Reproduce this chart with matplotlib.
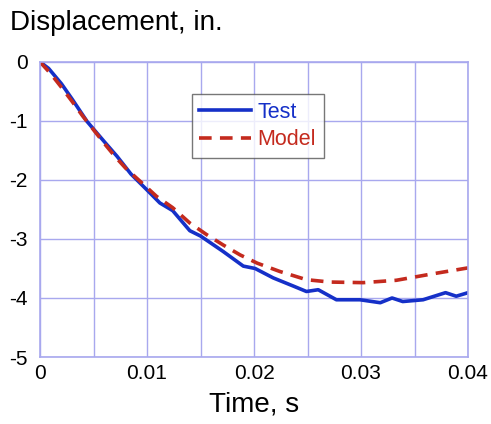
import numpy as np
import matplotlib.pyplot as plt

plt.rcParams['font.family'] = ['Liberation Sans', 'DejaVu Sans']

# Test record (time in s, displacement in in.)
t_test = [0.0, 0.0008, 0.002, 0.003, 0.0044, 0.006, 0.0072, 0.0085, 0.0100,
          0.0112, 0.0124, 0.0140, 0.0150, 0.0171, 0.0190, 0.0201, 0.0218,
          0.0237, 0.0249, 0.0260, 0.0277, 0.0299, 0.0318, 0.0329, 0.0339,
          0.0358, 0.0379, 0.0389, 0.0400]
d_test = [0.0, -0.11, -0.37, -0.63, -1.01, -1.35, -1.60, -1.90, -2.17,
          -2.39, -2.52, -2.86, -2.95, -3.21, -3.46, -3.50, -3.66,
          -3.80, -3.89, -3.86, -4.03, -4.03, -4.08, -4.00, -4.06,
          -4.03, -3.91, -3.97, -3.91]

# Model prediction
t_model = [0.0, 0.001, 0.002, 0.003, 0.004, 0.005, 0.006, 0.007, 0.008, 0.0094,
           0.0109, 0.0124, 0.0140, 0.0156, 0.0171, 0.0187, 0.0203, 0.0224,
           0.0249, 0.0271, 0.0302, 0.0333, 0.0364, 0.0400]
d_model = [0.0, -0.20, -0.43, -0.67, -0.92, -1.15, -1.38, -1.60, -1.80, -2.03,
           -2.28, -2.47, -2.73, -2.93, -3.10, -3.27, -3.41, -3.55,
           -3.69, -3.73, -3.74, -3.70, -3.60, -3.49]

grid_col = '#a8a8ee'

fig = plt.figure(figsize=(4.91, 4.24), dpi=100)
ax = fig.add_axes([0.0815, 0.158, 0.8717, 0.696])

ax.plot(t_test, d_test, '-', color='#1530c8', linewidth=2.6, label='Test')
ax.plot(t_model, d_model, '--', color='#c42a1e', linewidth=2.6,
        dashes=(3.5, 2.3), label='Model')

ax.set_xlim(0, 0.04)
ax.set_ylim(-5, 0)
ax.set_xticks(np.arange(0, 0.0401, 0.005))
ax.set_xticklabels(['0', '', '0.01', '', '0.02', '', '0.03', '', '0.04'])
ax.set_yticks([0, -1, -2, -3, -4, -5])
ax.set_yticklabels(['0', '-1', '-2', '-3', '-4', '-5'])
ax.grid(True, color=grid_col, linewidth=1.0)
ax.set_axisbelow(True)
for s in ax.spines.values():
    s.set_color(grid_col)
    s.set_linewidth(1.2)
ax.tick_params(length=0, labelsize=15, pad=5)
ax.tick_params(axis='y', pad=9)

leg = ax.legend(loc='upper left', bbox_to_anchor=(0.355, 0.89), fontsize=15.5,
                frameon=True, fancybox=False, edgecolor='#555555',
                handlelength=2.4, handletextpad=0.3, borderpad=0.35,
                labelspacing=0.3, borderaxespad=0)
leg.get_frame().set_linewidth(1.0)
for txt, line in zip(leg.get_texts(), leg.get_lines()):
    txt.set_color(line.get_color())

ax.set_xlabel('Time, s', fontsize=20, labelpad=6)
fig.text(0.02, 0.945, 'Displacement, in.', fontsize=20, ha='left', va='center')

fig.savefig('out.png', dpi=100)
